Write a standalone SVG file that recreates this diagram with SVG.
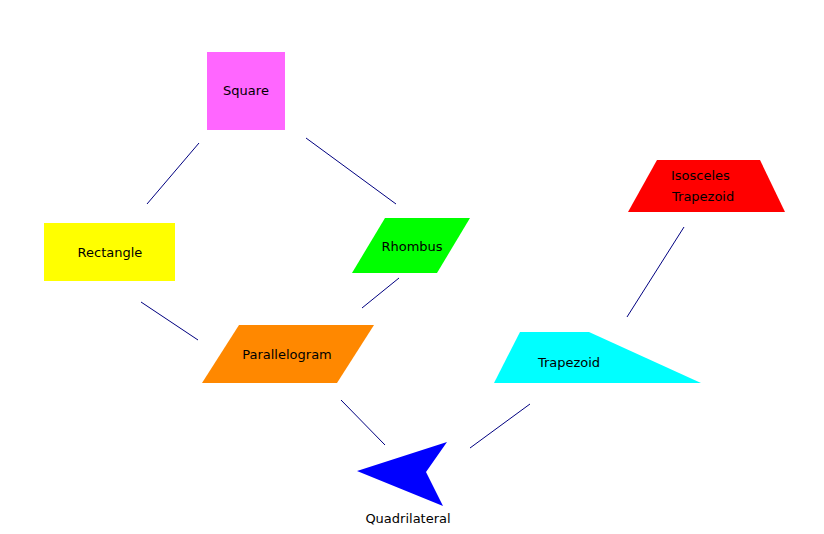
<svg xmlns="http://www.w3.org/2000/svg" width="824" height="534" viewBox="0 0 824 534">
<style>
text{font-family:"DejaVu Sans","Liberation Sans",sans-serif;font-size:13px;fill:#000}
.c line{stroke:#000080;stroke-width:1}
</style>
<rect width="824" height="534" fill="#fff"/>
<g class="c" id="connectors">
<line x1="199" y1="143" x2="147" y2="204"/>
<line x1="306" y1="138" x2="396" y2="204"/>
<line x1="141" y1="302" x2="198" y2="340"/>
<line x1="399" y1="278" x2="362" y2="308"/>
<line x1="341" y1="400" x2="385" y2="445"/>
<line x1="470" y1="448" x2="530" y2="404"/>
<line x1="627" y1="317" x2="684" y2="227"/>
</g>
<g id="square"><rect x="207" y="52" width="78" height="78" fill="#ff66ff"/><text x="246" y="95" text-anchor="middle">Square</text></g>
<g id="rectangle"><rect x="44" y="223" width="131" height="58" fill="#ffff00"/><text x="110" y="257" text-anchor="middle">Rectangle</text></g>
<g id="rhombus"><polygon points="385,218 470,218 437,273 352,273" fill="#00ff00"/><text x="412" y="251" text-anchor="middle">Rhombus</text></g>
<g id="parallelogram"><polygon points="239,325 374,325 337,383 202,383" fill="#ff8800"/><text x="287" y="359" text-anchor="middle">Parallelogram</text></g>
<g id="trapezoid"><polygon points="520,332 589,332 701,383 494,383" fill="#00ffff"/><text x="569" y="367" text-anchor="middle">Trapezoid</text></g>
<g id="isosceles"><polygon points="657,160 760,160 785,212 628,212" fill="#ff0000"/><text x="671" y="180">Isosceles</text><text x="672" y="201">Trapezoid</text></g>
<g id="quadrilateral"><polygon points="357,471 447,442 426,472 443,506" fill="#0000ff"/><text x="408" y="523" text-anchor="middle">Quadrilateral</text></g>
</svg>
